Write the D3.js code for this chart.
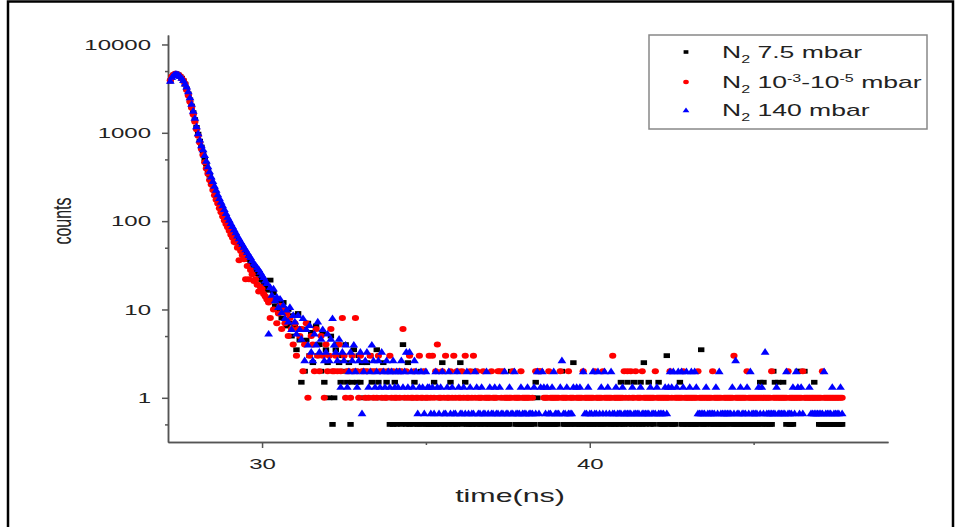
<!DOCTYPE html>
<html>
<head>
<meta charset="utf-8">
<script src="https://cdn.jsdelivr.net/npm/d3@7"></script>
<style>
  body { margin: 0; background: #fff; }
  svg text { font-family: Arial, "Liberation Sans", sans-serif; fill: #222; }
</style>
</head>
<body>
<div id="chart"></div>
<script>
// time channels (ns)
const times = [
  27.2,27.25,27.3,27.35,27.4,27.45,27.5,27.55,27.6,27.65,27.7,27.75,27.8,27.85,27.9,27.95,28,28.05,28.1,28.15,
  28.2,28.25,28.3,28.35,28.4,28.45,28.5,28.55,28.6,28.65,28.7,28.75,28.8,28.85,28.9,28.95,29,29.05,29.1,29.15,
  29.2,29.25,29.3,29.35,29.4,29.45,29.5,29.55,29.6,29.65,29.7,29.75,29.8,29.85,29.9,29.95,30,30.05,30.1,30.15,
  30.2,30.25,30.3,30.35,30.4,30.45,30.5,30.55,30.6,30.65,30.7,30.75,30.8,30.85,30.9,30.95,31,31.05,31.1,31.15,
  31.2,31.25,31.3,31.35,31.4,31.45,31.5,31.55,31.6,31.65,31.7,31.75,31.8,31.85,31.9,31.95,32,32.05,32.1,32.15,
  32.2,32.25,32.3,32.35,32.4,32.45,32.5,32.55,32.6,32.65,32.7,32.75,32.8,32.85,32.9,32.95,33,33.05,33.1,33.15,
  33.2,33.25,33.3,33.35,33.4,33.45,33.5,33.55,33.6,33.65,33.7,33.75,33.8,33.85,33.9,33.95,34,34.05,34.1,34.15,
  34.2,34.25,34.3,34.35,34.4,34.45,34.5,34.55,34.6,34.65,34.7,34.75,34.8,34.85,34.9,34.95,35,35.05,35.1,35.15,
  35.2,35.25,35.3,35.35,35.4,35.45,35.5,35.55,35.6,35.65,35.7,35.75,35.8,35.85,35.9,35.95,36,36.05,36.1,36.15,
  36.2,36.25,36.3,36.35,36.4,36.45,36.5,36.55,36.6,36.65,36.7,36.75,36.8,36.85,36.9,36.95,37,37.05,37.1,37.15,
  37.2,37.25,37.3,37.35,37.4,37.45,37.5,37.55,37.6,37.65,37.7,37.75,37.8,37.85,37.9,37.95,38,38.05,38.1,38.15,
  38.2,38.25,38.3,38.35,38.4,38.45,38.5,38.55,38.6,38.65,38.7,38.75,38.8,38.85,38.9,38.95,39,39.05,39.1,39.15,
  39.2,39.25,39.3,39.35,39.4,39.45,39.5,39.55,39.6,39.65,39.7,39.75,39.8,39.85,39.9,39.95,40,40.05,40.1,40.15,
  40.2,40.25,40.3,40.35,40.4,40.45,40.5,40.55,40.6,40.65,40.7,40.75,40.8,40.85,40.9,40.95,41,41.05,41.1,41.15,
  41.2,41.25,41.3,41.35,41.4,41.45,41.5,41.55,41.6,41.65,41.7,41.75,41.8,41.85,41.9,41.95,42,42.05,42.1,42.15,
  42.2,42.25,42.3,42.35,42.4,42.45,42.5,42.55,42.6,42.65,42.7,42.75,42.8,42.85,42.9,42.95,43,43.05,43.1,43.15,
  43.2,43.25,43.3,43.35,43.4,43.45,43.5,43.55,43.6,43.65,43.7,43.75,43.8,43.85,43.9,43.95,44,44.05,44.1,44.15,
  44.2,44.25,44.3,44.35,44.4,44.45,44.5,44.55,44.6,44.65,44.7,44.75,44.8,44.85,44.9,44.95,45,45.05,45.1,45.15,
  45.2,45.25,45.3,45.35,45.4,45.45,45.5,45.55,45.6,45.65,45.7,45.75,45.8,45.85,45.9,45.95,46,46.05,46.1,46.15,
  46.2,46.25,46.3,46.35,46.4,46.45,46.5,46.55,46.6,46.65,46.7,46.75,46.8,46.85,46.9,46.95,47,47.05,47.1,47.15,
  47.2,47.25,47.3,47.35,47.4,47.45,47.5,47.55,47.6,47.65,47.7
]

// N2 7.5 mbar (0 = empty channel, not drawn on log axis)
const black = [
  3850,4250,4500,4600,4620,4500,4330,4150,3880,3560,3140,2760,2360,2010,1690,1410,1150,965,805,690,
  592,508,442,378,331,288,256,224,201,179,162,146,134,120,111,100,93,84,78,71,
  66,60.5,57.5,52,49.5,44,42.5,38,37,33.5,32.5,29,28.5,25.5,25,22,21.5,19.5,19,17,
  16.5,21.5,13,15.5,11,12.5,9.5,11.5,8,12,9.5,6.5,10,7,5,8.5,6.5,3.5,9,4.5,
  1.5,6,2,4.5,7,3,5.5,2.5,4,6.5,3,4,2,5.5,1.5,3.5,2.5,1,5,0.5,
  1,3.5,4,2.5,1.5,3,2,4,1.5,2.5,0.5,1.5,3.5,2,1.5,3,1.5,2.5,1,2,
  2.5,1,3,1.5,2,1,3.5,1.5,1,2,2.5,1,1.5,2,0.5,1,0.5,1.5,0.5,1,
  2,0.5,4,1,0.5,2.5,0.5,1,0.5,1.5,1,0.5,0.5,2,1,0.5,0.5,1,0.5,0.5,
  0.5,1.5,0.5,0.5,1,0.5,2.5,0.5,0.5,1,0.5,1.5,0.5,1,0.5,0.5,2,2.5,0.5,1,
  1.5,0.5,0.5,1,0.5,0.5,2,0.5,1,0.5,0.5,0,0.5,1,0.5,0.5,1,0.5,0.5,0.5,
  1,0.5,0.5,0.5,1,0.5,0.5,0.5,2,0,0,0.5,0.5,1,0.5,0.5,0.5,1,0.5,0.5,
  0.5,1,0.5,1.5,1,0,0.5,0.5,0.5,1,0.5,0.5,0.5,1,0.5,0.5,0.5,0,0,2,
  0.5,0.5,0.5,1,0.5,0.5,2.5,0.5,1,0.5,0.5,0.5,1,0.5,0.5,1,0.5,0.5,0.5,1,
  0.5,0.5,1,0.5,0.5,0.5,0,0,0.5,0.5,1,0.5,0.5,1,0.5,1.5,0.5,0.5,1,1.5,
  0.5,1,0.5,1.5,0.5,0,0.5,1.5,0.5,2.5,0.5,1,1.5,0.5,1,0.5,0,0,1.5,0.5,
  0.5,0.5,0.5,3,0.5,1,0.5,0.5,0.5,0,0,1.5,0.5,0.5,1,0.5,0.5,1,0.5,0.5,
  0.5,0.5,1,0.5,3.5,0.5,0.5,0.5,0,1,0.5,0.5,0.5,1,0.5,0.5,0.5,0.5,1,0.5,
  0.5,0,1,0.5,0.5,0.5,0.5,1,0.5,0.5,0.5,0.5,1,0.5,0.5,0.5,1,0.5,0.5,0.5,
  1.5,0.5,1.5,0.5,0.5,1,0.5,0.5,2,1.5,0,1.5,0,1,1.5,0,0.5,1,0.5,0.5,
  0.5,1,0,2,2,0,1,2,0,1,0,1,0,1.5,1,0,0.5,0.5,1,0.5,
  0.5,0.5,1,0.5,0.5,0.5,1,0.5,0.5,0.5,0.5
]

// N2 1e-3 - 1e-5 mbar
const red = [
  3900,4350,4550,4650,4600,4550,4380,4120,3900,3600,3050,2650,2250,1920,1610,1330,1100,925,775,655,
  560,465,395,345,292,260,225,196,175,158,140,126,113,102,93,85,78,70,65,58,
  57,50,36,46,41,37,22,31,22,28,25,21,22,19,16,18,17,15,14,13,
  12,8,13,10,13,7,9,11,6,10,7,9,5,8,6,4,7,3,6,5,
  6,2,4,7,1,3,5,4,2,6,3,2,5,3,1,4,2,3,6,2,
  2,3,2,4,2,8,3,1,2,2,1,3,2,8,2,1,3,2,2,1,
  2,1,3,2,1,2,1,3,2,1,2,1,1,2,3,1,2,1,1,2,
  1,2,6,1,2,1,3,1,1,2,1,1,3,1,1,2,1,1,3,1,
  3,1,2,4,1,1,2,1,3,1,1,2,1,3,1,2,1,1,2,1,
  3,1,1,2,1,3,1,2,1,1,1,2,1,1,1,1,2,1,1,1,
  2,2,1,2,1,1,1,1,1,2,1,1,1,1,2,1,1,1,1,1,
  0,1,0,2,2,2,2,0,1,1,1,2,1,1,1,1,1,1,2,1,
  1,1,1,2,1,1,1,0,1,1,1,1,2,1,1,1,1,1,1,2,
  1,1,1,1,2,1,1,1,1,1,3,1,1,1,1,1,1,2,1,2,
  1,2,1,1,2,1,1,1,2,1,1,1,1,1,1,1,2,1,1,1,
  1,1,1,1,1,2,1,0,1,1,1,1,1,2,1,1,1,1,1,1,
  1,1,2,1,1,1,1,1,1,1,1,2,1,1,1,1,1,0,1,1,
  1,1,1,1,3,1,1,1,1,1,1,1,2,1,1,1,1,1,1,1,
  1,1,1,1,1,1,1,2,1,1,1,1,1,1,1,1,1,2,1,1,
  1,1,1,1,1,1,2,1,1,1,1,1,1,1,1,1,1,1,2,1,
  1,1,1,1,1,1,1,1,1,1,1
]

// N2 140 mbar
const blue = [
  3880,4300,4520,4640,4660,4560,4400,4200,3950,3620,3350,2950,2520,2130,1780,1480,1190,990,840,725,
  650,562,484,417,366,321,285,252,227,201,183,166,151,137,124,112,104,95,88,81,
  75,68.7,64,59.3,55.3,51.3,48,44.7,41.3,39.3,36,33.3,32,30,28.7,26.7,24.7,23.3,21.3,20,
  5.33,18,14.7,17.3,12.7,14,10.7,13.3,9.33,11.3,8,10,7.33,10.7,6,8.67,7.33,5.33,8.67,6,
  4.67,8,2.67,6,4,6.67,3.33,2.67,5.33,4,7.33,3.33,4.67,6,2.67,3.33,5.33,2.67,4.67,8,
  4,3.33,2.67,4.67,1.33,3.33,2.67,4,1.33,2,3.33,2.67,4,2,1.33,2.67,3.33,0.67,2,2.67,
  3.33,1.33,2,4,2.67,1.33,2,2.67,1.33,3.33,2,1.33,2.67,2,1.33,2,2.67,1.33,2,1.33,
  2,2.67,1.33,2,3.33,1.33,3.33,2,1.33,2.67,2,0.67,1.33,2,1.33,0.67,2,1.33,1.33,0.67,
  1.33,0.67,2,1.33,0.67,1.33,2,0.67,0.67,1.33,2,0.67,1.33,0.67,0.67,2,1.33,0.67,0.67,1.33,
  0.67,2,0.67,1.33,0.67,0.67,2,1.33,0.67,0.67,1.33,0.67,0.67,2,0.67,1.33,0.67,0.67,1.33,0.67,
  0.67,1.33,0.67,0.67,2,0.67,0.67,1.33,0.67,0.67,2,0.67,0.67,0.67,1.33,0.67,0.67,0.67,1.33,0.67,
  0.67,0.67,1.33,0.67,2,0.67,1.33,2,1.33,0.67,1.33,0.67,0.67,1.33,2,0.67,0.67,0.67,1.33,2.67,
  0.67,0.67,1.33,0.67,0.67,0.67,1.33,0,1.33,0,1.33,0,2,0.67,0.67,1.33,0.67,0.67,2,0.67,
  0.67,2,0.67,1.33,0.67,2,0.67,1.33,0.67,2,0.67,0.67,1.33,0.67,0.67,0.67,1.33,0.67,0.67,0.67,
  0.67,0.67,1.33,0.67,0.67,0.67,0.67,1.33,0.67,0.67,0.67,0.67,0.67,1.33,0.67,0.67,0.67,1.33,0.67,0.67,
  0.67,0.67,1.33,0.67,1.33,2,1.33,2,0,1.33,2,0,2,1.33,0,2,0,1.33,2,0,
  2,1.33,0.67,0.67,0.67,0.67,0.67,1.33,0.67,0.67,0.67,0.67,0.67,1.33,0.67,2,0.67,0.67,0.67,0.67,
  0.67,0.67,0.67,1.33,0.67,2.67,0.67,0.67,1.33,0.67,0.67,0.67,1.33,0.67,2,0.67,0.67,0.67,0.67,1.33,
  0.67,1.33,0.67,3.33,0.67,0.67,0.67,0.67,0.67,0.67,1.33,0.67,0.67,0.67,0.67,0.67,2,0.67,0.67,0.67,
  1.33,0.67,2,1.33,0.67,1.33,0.67,0,0,0,1.33,0.67,0.67,0.67,0.67,0.67,0.67,0.67,0.67,2,
  0.67,0.67,0.67,0.67,1.33,0.67,0.67,0.67,0.67,1.33,0.67
]

const xTicks = [30, 40]
const xMinor = [35, 45]
const yTicks = [1, 10, 100, 1000, 10000]
const yMinor = [0.5, 5, 50, 500, 5000]

if (black.length !== times.length || red.length !== times.length || blue.length !== times.length) {
  throw new Error(`lengths: t ${times.length} b ${black.length} r ${red.length} u ${blue.length}`)
}

const width = 955, height = 527
const plot = { left: 168, right: 888, top: 35, bottom: 442 }
const sx = 1.6 // the picture is stretched sideways

const svg = d3.select('#chart').append('svg')
  .attr('width', width)
  .attr('height', height)

svg.append('rect').attr('width', width).attr('height', height).attr('fill', '#fff')

// outer frame
svg.append('path')
  .attr('d', `M8,${height} L8,1.5 L953,1.5 L953,${height}`)
  .attr('fill', 'none').attr('stroke', '#000').attr('stroke-width', 2.5)

const x = d3.scaleLinear().domain([27.13, 49.1]).range([plot.left, plot.right])
const y = d3.scaleLog().domain([0.316, 12800]).range([plot.bottom, plot.top])

const axisColor = '#555'

// x axis
const gx = svg.append('g').attr('transform', `translate(0,${plot.bottom})`)
gx.call(d3.axisBottom(x).tickValues(xTicks).tickSize(6).tickSizeOuter(0).tickPadding(10).tickFormat(d3.format('d')))
gx.append('g').call(d3.axisBottom(x).tickValues(xMinor).tickSize(3).tickSizeOuter(0).tickFormat(''))
gx.selectAll('.domain').attr('stroke', axisColor).attr('stroke-width', 1.5)
gx.selectAll('.tick line').attr('stroke', axisColor).attr('stroke-width', 1.5)
gx.selectAll('.tick text').attr('font-size', 15).attr('fill', '#222').attr('transform', `scale(${sx},1)`)

// y axis
const gy = svg.append('g').attr('transform', `translate(${plot.left},0)`)
gy.call(d3.axisLeft(y).tickValues(yTicks).tickSize(6).tickSizeOuter(0).tickFormat(d3.format('d')))
gy.append('g').call(d3.axisLeft(y).tickValues(yMinor).tickSize(3).tickSizeOuter(0).tickFormat(''))
gy.selectAll('.domain').attr('stroke', axisColor).attr('stroke-width', 1.5)
gy.selectAll('.tick line').attr('stroke', axisColor).attr('stroke-width', 1.5)
gy.selectAll('.tick text').attr('font-size', 15).attr('fill', '#222')
  .attr('x', -17 / sx).attr('transform', `scale(${sx},1)`)

// axis titles
svg.append('text')
  .attr('transform', `translate(62,221) scale(${sx},1) rotate(-90)`)
  .attr('text-anchor', 'middle').attr('dy', '0.35em')
  .attr('font-size', 16)
  .text('counts')

svg.append('text')
  .attr('transform', `translate(510,502) scale(${sx},1)`)
  .attr('text-anchor', 'middle')
  .attr('font-size', 19)
  .text('time(ns)')

// points
const pts = arr => times.map((t, i) => ({ t, v: arr[i] })).filter(d => d.v > 0)
const tri = 'M0,-3.6L4.4,3L-4.4,3Z'

svg.append('g').selectAll('rect')
  .data(pts(black))
  .join('rect')
  .attr('x', d => x(d.t) - 3.2)
  .attr('y', d => y(d.v) - 2.4)
  .attr('width', 6.4)
  .attr('height', 4.8)
  .attr('fill', '#000')

svg.append('g').selectAll('ellipse')
  .data(pts(red))
  .join('ellipse')
  .attr('cx', d => x(d.t))
  .attr('cy', d => y(d.v))
  .attr('rx', 3.6)
  .attr('ry', 3)
  .attr('fill', '#f00')

svg.append('g').selectAll('path')
  .data(pts(blue))
  .join('path')
  .attr('d', tri)
  .attr('transform', d => `translate(${x(d.t)},${y(d.v)})`)
  .attr('fill', '#00f')

// legend
const legend = svg.append('g')
legend.append('rect')
  .attr('x', 649).attr('y', 35).attr('width', 278).attr('height', 94)
  .attr('fill', '#fff').attr('stroke', '#888').attr('stroke-width', 1.5)

const legendRows = [
  { y: 52, parts: [['N', 0], ['2', 1], [' 7.5 mbar', 0]] },
  { y: 82, parts: [['N', 0], ['2', 1], [' 10', 0], ['-3', -1], ['-10', 0], ['-5', -1], [' mbar', 0]] },
  { y: 110, parts: [['N', 0], ['2', 1], [' 140 mbar', 0]] }
]

legend.append('rect').attr('x', 686 - 2.4).attr('y', 52 - 1.8).attr('width', 4.8).attr('height', 3.6).attr('fill', '#000')
legend.append('ellipse').attr('cx', 686).attr('cy', 82).attr('rx', 2.8).attr('ry', 2.2).attr('fill', '#f00')
legend.append('path').attr('d', 'M0,-2.6L3.4,2.2L-3.4,2.2Z').attr('transform', 'translate(686,110)').attr('fill', '#00f')

legendRows.forEach(row => {
  const txt = legend.append('text')
    .attr('transform', `translate(722,${row.y + 6}) scale(${sx},1)`)
    .attr('font-size', 16.6)
  let shift = 0
  row.parts.forEach(([s, kind]) => {
    const target = kind === 1 ? 5 : kind === -1 ? -6 : 0
    txt.append('tspan')
      .attr('dy', target - shift)
      .attr('font-size', kind === 0 ? 16.6 : 10)
      .text(s)
    shift = target
  })
})
</script>
</body>
</html>
